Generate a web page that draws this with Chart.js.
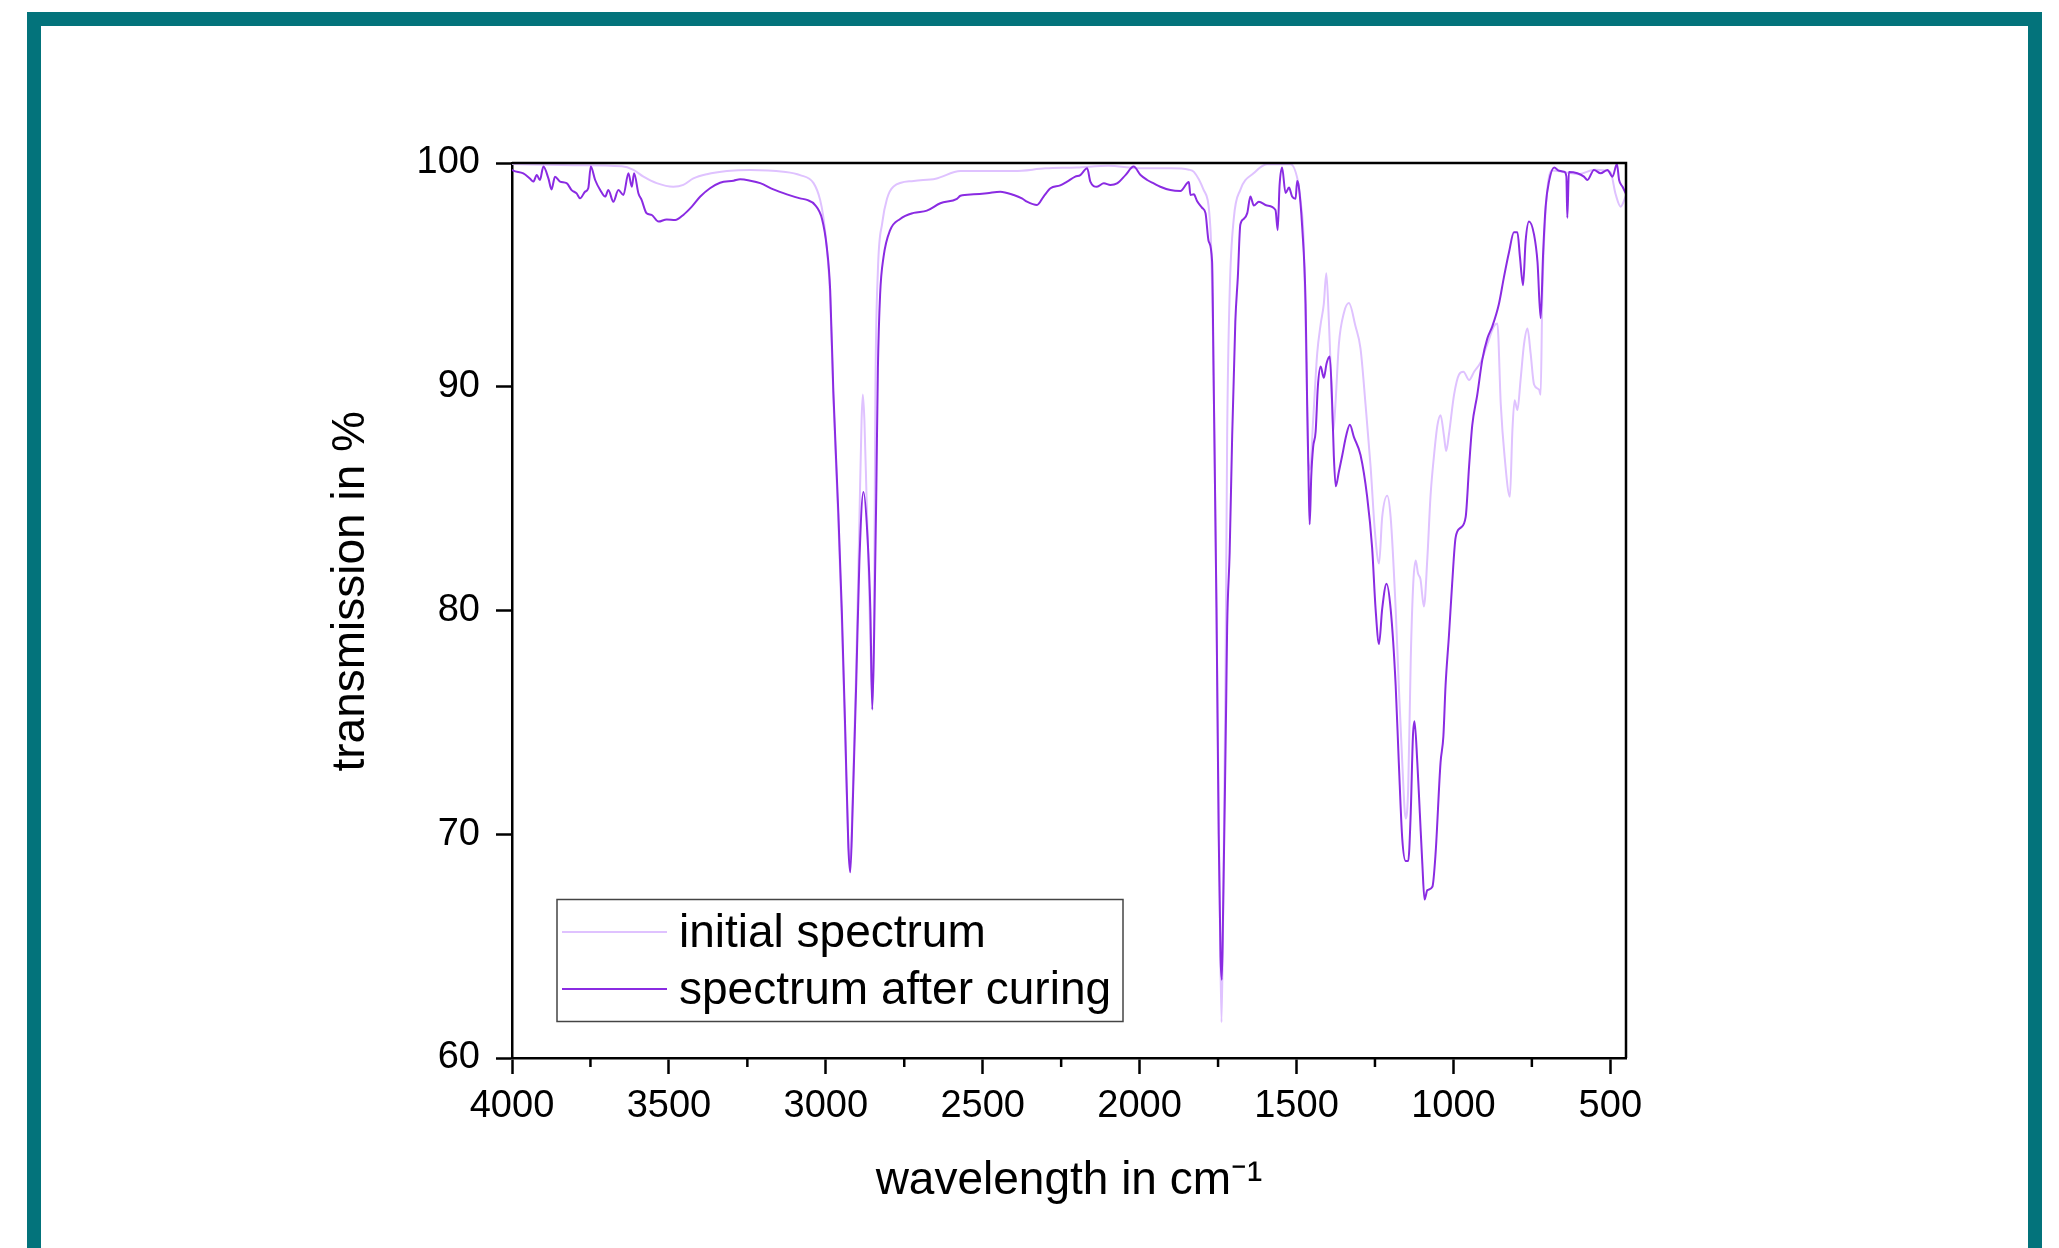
<!DOCTYPE html>
<html>
<head>
<meta charset="utf-8">
<script src="https://cdn.jsdelivr.net/npm/chart.js@4.4.1/dist/chart.umd.min.js"></script>
<style>
  body { margin: 0; background: #ffffff; }
  canvas { display: block; }
</style>
</head>
<body>
<canvas id="myChart" width="2059" height="1248"></canvas>
<script>
// [wavenumber in cm-1, transmission in %]
const initialSpectrum = [
  [4000, 99.95], [3800, 99.9], [3650, 99.85], [3613, 99.69], [3581, 99.39], [3539, 99.1],
  [3486, 98.94], [3454, 99.02], [3422, 99.31], [3379, 99.5], [3315, 99.64], [3241, 99.69],
  [3135, 99.61], [3082, 99.46], [3039, 99.1], [3018, 98.35], [3008, 97.6], [2996, 96.1],
  [2986, 94.0], [2976, 89.5], [2960, 84.0], [2949, 79.5], [2938, 74.2], [2928, 69.6],
  [2922, 68.8], [2914, 71.8], [2903, 77.5], [2893, 84.0], [2886, 88.5], [2882, 89.65],
  [2877, 88.5], [2870, 85.0], [2862, 81.0], [2855, 77.0], [2850, 76.0], [2846, 80.0],
  [2842, 89.77], [2834, 95.2], [2820, 97.33], [2805, 98.4], [2784, 98.95], [2720, 99.2],
  [2650, 99.3], [2571, 99.64], [2400, 99.64], [2300, 99.76], [2200, 99.8], [2100, 99.88],
  [2000, 99.76], [1900, 99.76], [1843, 99.7], [1827, 99.6], [1796, 98.8], [1774, 97.0],
  [1764, 90.3], [1753, 77.5], [1745, 67.25], [1739, 61.6], [1734, 66.0], [1730, 72.0],
  [1726, 77.5], [1721, 87.8], [1713, 94.2], [1700, 97.5], [1679, 98.8], [1636, 99.55],
  [1594, 99.94], [1519, 99.94], [1493, 99.0], [1487, 98.3], [1477, 96.5], [1471, 92.6],
  [1466, 89.2], [1463, 86.8], [1457, 86.3], [1447, 88.5], [1434, 91.5], [1423, 92.8],
  [1413, 93.7], [1405, 95.07], [1397, 93.0], [1390, 90.5], [1383, 88.0], [1376, 89.2],
  [1365, 91.9], [1349, 93.3], [1333, 93.74], [1312, 92.7], [1296, 91.7], [1280, 89.2],
  [1264, 86.45], [1250, 83.5], [1237, 82.1], [1227, 84.17], [1211, 85.13], [1200, 84.17],
  [1184, 80.07], [1174, 76.65], [1163, 73.2], [1152, 70.7], [1144, 72.1], [1136, 77.8],
  [1128, 81.2], [1120, 82.23], [1113, 81.66], [1105, 81.4], [1094, 80.18], [1083, 82.35],
  [1073, 85.1], [1062, 86.9], [1051, 88.27], [1041, 88.73], [1030, 87.8], [1023, 87.13],
  [1014, 87.9], [998, 89.64], [982, 90.55], [968, 90.67], [950, 90.3], [934, 90.67],
  [913, 91.1], [892, 91.9], [871, 92.7], [860, 92.83], [849, 89.2], [837, 86.9],
  [820, 85.08], [812, 88.05], [805, 89.4], [796, 88.96], [786, 90.3], [775, 91.9],
  [764, 92.6], [754, 91.5], [743, 90.1], [727, 89.87], [722, 89.64], [717, 93.74],
  [711, 96.5], [701, 98.8], [685, 99.67], [650, 99.6], [600, 99.5], [550, 99.7],
  [500, 99.6], [483, 98.6], [467, 98.05], [451, 98.5]
]

const curedSpectrum = [
  [4000, 99.7], [3996, 99.66], [3964, 99.54], [3943, 99.31], [3932, 99.17], [3921, 99.46],
  [3911, 99.24], [3900, 99.84], [3884, 99.31], [3874, 98.82], [3863, 99.39], [3847, 99.17],
  [3826, 99.1], [3810, 98.79], [3794, 98.64], [3783, 98.42], [3767, 98.72], [3757, 98.87],
  [3749, 99.84], [3735, 99.24], [3719, 98.79], [3703, 98.5], [3693, 98.79], [3677, 98.27],
  [3661, 98.79], [3645, 98.57], [3629, 99.54], [3618, 98.94], [3611, 99.54], [3597, 98.64],
  [3587, 98.35], [3571, 97.75], [3555, 97.68], [3533, 97.38], [3507, 97.48], [3480, 97.45],
  [3454, 97.68], [3427, 98.05], [3400, 98.5], [3369, 98.87], [3337, 99.12], [3294, 99.21],
  [3273, 99.27], [3241, 99.21], [3209, 99.1], [3167, 98.82], [3124, 98.6], [3082, 98.42],
  [3060, 98.35], [3034, 98.12], [3012, 97.5], [2997, 96.25], [2986, 94.3], [2976, 89.8],
  [2960, 84.35], [2949, 80.0], [2938, 74.6], [2928, 69.4], [2922, 68.3], [2914, 71.4],
  [2903, 76.8], [2893, 82.2], [2880, 85.3], [2867, 83.26], [2858, 80.0], [2852, 75.57],
  [2846, 78.9], [2839, 85.4], [2834, 90.8], [2827, 94.1], [2816, 95.8], [2795, 97.0],
  [2763, 97.5], [2720, 97.77], [2678, 97.87], [2635, 98.2], [2582, 98.4], [2571, 98.54],
  [2529, 98.6], [2486, 98.65], [2444, 98.72], [2401, 98.57], [2375, 98.42], [2359, 98.27],
  [2327, 98.12], [2306, 98.5], [2284, 98.87], [2253, 99.0], [2231, 99.17], [2205, 99.39],
  [2189, 99.46], [2167, 99.76], [2157, 99.17], [2136, 98.94], [2114, 99.09], [2093, 99.02],
  [2072, 99.09], [2045, 99.46], [2019, 99.84], [1997, 99.46], [1976, 99.24], [1955, 99.09],
  [1934, 98.94], [1902, 98.79], [1870, 98.75], [1843, 99.15], [1838, 98.57], [1827, 98.6],
  [1817, 98.3], [1801, 98.0], [1790, 97.76], [1780, 96.5], [1769, 95.6], [1764, 90.3],
  [1755, 80.1], [1748, 70.0], [1742, 64.5], [1738, 63.5], [1734, 66.5], [1728, 72.0],
  [1724, 76.0], [1721, 79.3], [1713, 82.6], [1705, 87.8], [1695, 92.9], [1687, 94.9],
  [1679, 97.25], [1668, 97.5], [1657, 97.76], [1647, 98.5], [1636, 98.1], [1620, 98.27],
  [1594, 98.1], [1567, 97.9], [1560, 97.0], [1554, 99.0], [1546, 99.8], [1535, 98.66],
  [1524, 98.9], [1514, 98.5], [1503, 98.4], [1498, 99.2], [1493, 98.98], [1482, 97.16],
  [1471, 93.7], [1466, 89.2], [1461, 85.5], [1458, 83.85], [1453, 86.0], [1447, 87.3],
  [1439, 88.0], [1432, 90.0], [1423, 90.9], [1413, 90.4], [1404, 91.05], [1394, 91.35],
  [1386, 89.1], [1381, 86.9], [1375, 85.55], [1365, 86.2], [1354, 86.95], [1342, 87.8],
  [1330, 88.3], [1317, 87.75], [1296, 86.95], [1275, 85.1], [1259, 82.8], [1248, 80.07],
  [1237, 78.5], [1227, 80.07], [1213, 81.2], [1200, 80.07], [1184, 76.65], [1174, 73.2],
  [1163, 69.8], [1152, 68.8], [1144, 68.8], [1136, 70.95], [1129, 74.37], [1124, 75.05],
  [1115, 73.2], [1107, 70.95], [1099, 68.67], [1092, 67.08], [1083, 67.5], [1067, 67.65],
  [1057, 69.1], [1041, 73.2], [1032, 74.37], [1025, 76.65], [1014, 78.93], [1004, 81.2],
  [993, 83.26], [977, 83.7], [961, 84.17], [950, 86.45], [940, 88.27], [924, 89.64],
  [908, 91.2], [892, 92.15], [876, 92.7], [855, 93.7], [839, 94.9], [823, 96.0],
  [807, 96.9], [796, 96.9], [788, 95.8], [778, 94.54], [770, 96.5], [759, 97.39],
  [743, 96.8], [732, 95.57], [722, 93.06], [714, 96.0], [706, 98.07], [695, 99.2],
  [679, 99.8], [663, 99.65], [647, 99.61], [640, 99.4], [637, 97.55], [632, 99.6],
  [605, 99.54], [584, 99.39], [573, 99.24], [552, 99.69], [531, 99.54], [509, 99.69],
  [493, 99.39], [479, 99.95], [472, 99.24], [461, 98.94], [451, 98.64]
]

const xTicks = [4000, 3500, 3000, 2500, 2000, 1500, 1000, 500]
const xMinorTicks = [3750, 3250, 2750, 2250, 1750, 1250, 750]
const yTicks = [60, 70, 80, 90, 100]

const familia = "'Liberation Sans', Arial, sans-serif"
const ctx = document.getElementById("myChart").getContext("2d")

const marco = {
    id: 'marco',
    beforeDraw(chart) {
        const c = chart.ctx
        c.save()
        c.fillStyle = '#03737b'
        c.fillRect(27, 12, 14, 1236)
        c.fillRect(27, 12, 2015, 14)
        c.fillRect(2028, 12, 14, 1236)
        c.restore()
    },
    afterDraw(chart) {
        const c = chart.ctx
        const area = chart.chartArea
        const x = chart.scales.x
        c.save()
        c.strokeStyle = '#000'
        c.lineWidth = 2.5
        // minor ticks
        xMinorTicks.forEach(function(v){
            const px = x.getPixelForValue(v)
            c.beginPath()
            c.moveTo(px, area.bottom)
            c.lineTo(px, area.bottom + 9)
            c.stroke()
        })
        // top and right edges of the box
        c.beginPath()
        c.moveTo(area.left, area.top)
        c.lineTo(area.right, area.top)
        c.lineTo(area.right, area.bottom)
        c.stroke()

        // legend box
        c.lineWidth = 1.5
        c.strokeStyle = '#444'
        c.strokeRect(557, 899.5, 566, 122)
        c.font = '46px ' + familia
        c.textBaseline = 'middle'
        c.fillStyle = '#000'
        chart.data.datasets.forEach(function(ds, i){
            const y = 932 + i * 57
            c.strokeStyle = ds.borderColor
            c.lineWidth = 2
            c.beginPath()
            c.moveTo(562, y)
            c.lineTo(667, y)
            c.stroke()
            c.fillText(ds.label, 679, y + 2)
        })
        c.restore()
    }
}

const config = {
    type: 'line',
    data: {
        datasets: [{
            label: 'initial spectrum',
            data: initialSpectrum.map(p => ({x: p[0], y: p[1]})),
            borderColor: '#dfc2ff',
            borderWidth: 2,
            pointRadius: 0,
            cubicInterpolationMode: 'monotone',
            order: 1
        }, {
            label: 'spectrum after curing',
            data: curedSpectrum.map(p => ({x: p[0], y: p[1]})),
            borderColor: '#8a2be2',
            borderWidth: 2,
            pointRadius: 0,
            cubicInterpolationMode: 'monotone',
            order: 0
        }]
    },
    options: {
        responsive: false,
        animation: false,
        devicePixelRatio: 1,
        layout: { padding: { left: 300, top: 163, right: 433, bottom: 20 } },
        plugins: {
            legend: { display: false },
            tooltip: { enabled: false }
        },
        scales: {
            x: {
                type: 'linear',
                reverse: true,
                min: 450,
                max: 4000,
                afterBuildTicks: s => { s.ticks = xTicks.map(v => ({value: v})) },
                afterFit: s => { s.height = 170 },
                ticks: {
                    color: '#000',
                    font: { size: 38, family: familia },
                    padding: 10,
                    maxRotation: 0,
                    autoSkip: false,
                    callback: v => String(v)
                },
                grid: { drawOnChartArea: false, tickLength: 16, tickColor: '#000', tickWidth: 2.5 },
                border: { color: '#000', width: 2.5 },
                title: {
                    display: true,
                    text: 'wavelength in cm\u207B\u00B9',
                    color: '#000',
                    font: { size: 46, family: familia },
                    padding: { top: 0, bottom: 19 }
                }
            },
            y: {
                min: 60,
                max: 100,
                afterBuildTicks: s => { s.ticks = yTicks.map(v => ({value: v})) },
                afterFit: s => { s.width = 212 },
                ticks: {
                    color: '#000',
                    font: { size: 38, family: familia },
                    padding: 16,
                    callback: v => String(v)
                },
                grid: { drawOnChartArea: false, tickLength: 16, tickColor: '#000', tickWidth: 2.5 },
                border: { color: '#000', width: 2.5 },
                title: {
                    display: true,
                    text: '   transmission in %',
                    color: '#000',
                    font: { size: 46, family: familia },
                    padding: { top: 24, bottom: 0 }
                }
            }
        }
    },
    plugins: [marco]
}

var myChart = new Chart(ctx, config)
</script>
</body>
</html>
